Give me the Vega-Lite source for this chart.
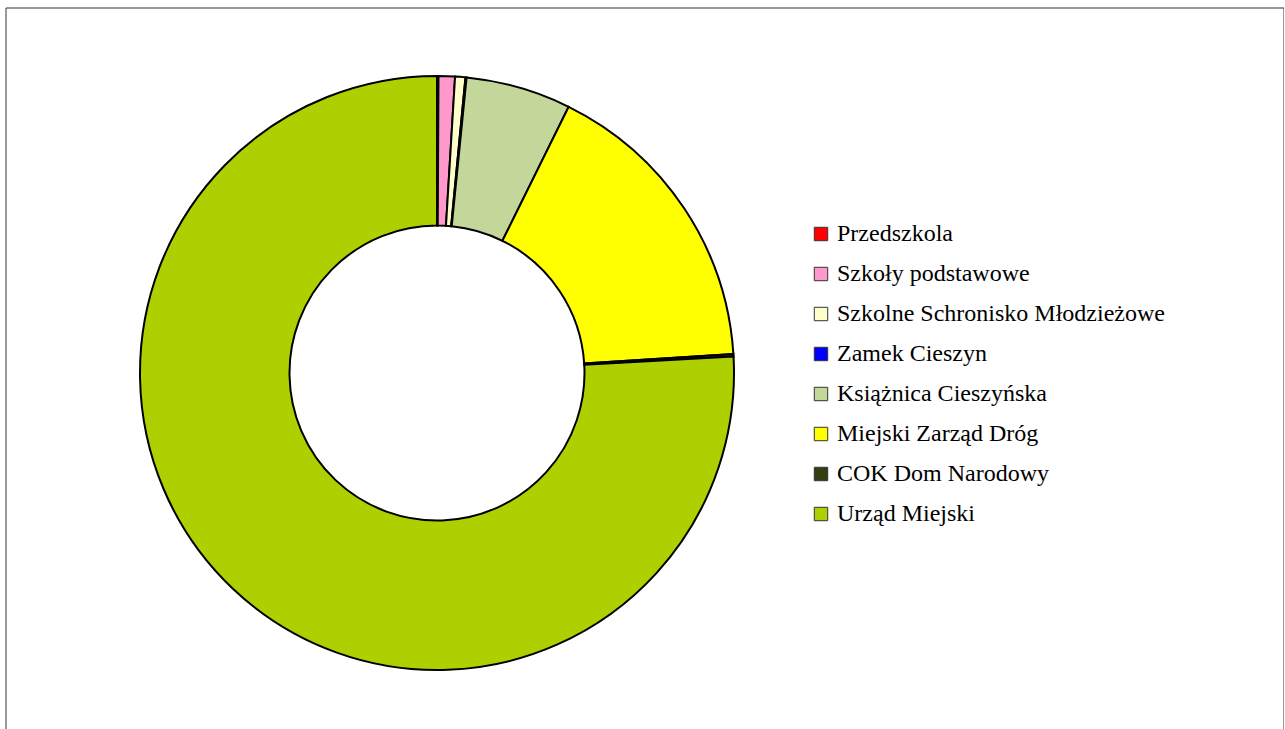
{
  "$schema": "https://vega.github.io/schema/vega-lite/v6.json",
  "autosize": "none",
  "width": 1278,
  "height": 740,
  "padding": {"left": 6, "top": 8, "right": 0, "bottom": 0},
  "background": "white",
  "config": {"view": {"stroke": null}},
  "layer": [
    {
      "data": {"values": [{"frame": 1}]},
      "mark": {"type": "rect", "fill": null, "stroke": "#333333", "strokeWidth": 1},
      "encoding": {}
    },
    {
      "data": {
        "values": [
          {"idx": 1, "unit": "Przedszkola", "share": 0.08},
          {"idx": 2, "unit": "Szkoły podstawowe", "share": 0.89},
          {"idx": 3, "unit": "Szkolne Schronisko Młodzieżowe", "share": 0.56},
          {"idx": 4, "unit": "Zamek Cieszyn", "share": 0.06},
          {"idx": 5, "unit": "Książnica Cieszyńska", "share": 5.72},
          {"idx": 6, "unit": "Miejski Zarząd Dróg", "share": 16.67},
          {"idx": 7, "unit": "COK Dom Narodowy", "share": 0.14},
          {"idx": 8, "unit": "Urząd Miejski", "share": 75.88}
        ]
      },
      "mark": {
        "type": "arc",
        "x": 431,
        "y": 365,
        "radius": 297,
        "radius2": 147.5,
        "stroke": "black",
        "strokeWidth": 2
      },
      "encoding": {
        "theta": {"field": "share", "type": "quantitative", "stack": true},
        "order": {"field": "idx", "type": "quantitative"},
        "color": {
          "field": "unit",
          "type": "nominal",
          "sort": ["Przedszkola", "Szkoły podstawowe", "Szkolne Schronisko Młodzieżowe", "Zamek Cieszyn", "Książnica Cieszyńska", "Miejski Zarząd Dróg", "COK Dom Narodowy", "Urząd Miejski"],
          "scale": {
            "domain": ["Przedszkola", "Szkoły podstawowe", "Szkolne Schronisko Młodzieżowe", "Zamek Cieszyn", "Książnica Cieszyńska", "Miejski Zarząd Dróg", "COK Dom Narodowy", "Urząd Miejski"],
            "range": ["#FF0000", "#FF99CC", "#FFFFCC", "#0000FF", "#C4D79B", "#FFFF00", "#333F10", "#AFD000"]
          },
          "legend": {
            "title": null,
            "orient": "none",
            "legendX": 803,
            "legendY": 214,
            "symbolType": "square",
            "symbolSize": 180,
            "symbolStrokeColor": "#333333",
            "symbolStrokeWidth": 1,
            "symbolOpacity": 1,
            "labelFont": "Liberation Serif",
            "labelFontSize": 24,
            "labelColor": "black",
            "labelOffset": 4,
            "labelLimit": 500,
            "rowPadding": 16
          }
        }
      }
    }
  ]
}
